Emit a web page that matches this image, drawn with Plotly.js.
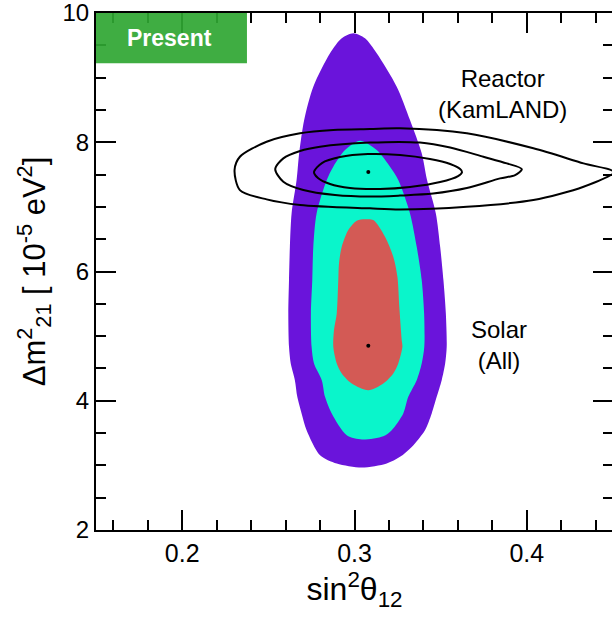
<!DOCTYPE html>
<html><head><meta charset="utf-8">
<script src="https://cdn.plot.ly/plotly-3.0.1.min.js"></script>
<style>html,body{margin:0;padding:0;overflow:hidden;background:#fff}</style>
</head><body><div id="chart" style="width:614px;height:617px"></div>
<script>
// Solar (All) allowed regions: boundary points
const solar3sX = [0.2993, 0.3061, 0.3129, 0.3245, 0.3322, 0.3390, 0.3421, 0.3472, 0.3497, 0.3516, 0.3530, 0.3535, 0.3526, 0.3506, 0.3477, 0.3448, 0.3409, 0.3332, 0.3264, 0.3187, 0.3042, 0.2897, 0.2800, 0.2722, 0.2693, 0.2668, 0.2654, 0.2630, 0.2620, 0.2616, 0.2620, 0.2625, 0.2635, 0.2664, 0.2679, 0.2708, 0.2761, 0.2858, 0.2926, 0.2993];
const solar3sY = [9.686, 9.608, 9.376, 8.859, 8.344, 7.828, 7.415, 6.899, 6.382, 5.867, 5.351, 4.834, 4.577, 4.319, 4.060, 3.803, 3.545, 3.286, 3.132, 3.029, 2.967, 3.029, 3.158, 3.545, 3.803, 4.060, 4.319, 4.577, 4.834, 5.351, 5.867, 6.382, 6.899, 7.415, 7.828, 8.344, 8.859, 9.376, 9.608, 9.686];
const solar2sX = [0.3032, 0.3129, 0.3206, 0.3254, 0.3322, 0.3361, 0.3390, 0.3404, 0.3405, 0.3390, 0.3361, 0.3312, 0.3283, 0.3216, 0.3167, 0.3044, 0.2955, 0.2868, 0.2829, 0.2810, 0.2765, 0.2751, 0.2747, 0.2755, 0.2761, 0.2780, 0.2839, 0.2877, 0.2945, 0.3032];
const solar2sY = [8.023, 7.879, 7.621, 7.415, 6.899, 6.382, 5.867, 5.351, 4.834, 4.577, 4.319, 4.060, 3.803, 3.545, 3.452, 3.401, 3.467, 3.803, 4.060, 4.319, 4.577, 4.834, 5.351, 5.867, 6.382, 6.899, 7.415, 7.621, 7.879, 8.023];
const solar1sX = [0.3061, 0.3109, 0.3177, 0.3225, 0.3249, 0.3260, 0.3274, 0.3278, 0.3254, 0.3225, 0.3167, 0.3080, 0.2984, 0.2926, 0.2897, 0.2877, 0.2881, 0.2897, 0.2906, 0.2910, 0.2926, 0.2964, 0.3013, 0.3061];
const solar1sY = [6.807, 6.796, 6.537, 6.228, 5.918, 5.454, 4.938, 4.834, 4.577, 4.423, 4.268, 4.164, 4.268, 4.423, 4.577, 4.834, 5.093, 5.351, 5.867, 6.125, 6.382, 6.641, 6.785, 6.807];
// Reactor (KamLAND) contour lines
const react1sX = [0.2765, 0.2811, 0.2916, 0.3078, 0.3264, 0.3438, 0.3555, 0.3613, 0.3624, 0.3601, 0.3497, 0.3322, 0.3148, 0.2974, 0.2858, 0.2788, 0.2765];
const react1sY = [7.539, 7.678, 7.771, 7.817, 7.802, 7.740, 7.663, 7.585, 7.539, 7.477, 7.384, 7.307, 7.276, 7.291, 7.353, 7.446, 7.539];
const react2sX = [0.2540, 0.2587, 0.2684, 0.2800, 0.3090, 0.3380, 0.3555, 0.3748, 0.3884, 0.3971, 0.3932, 0.3845, 0.3652, 0.3456, 0.3264, 0.3090, 0.2887, 0.2703, 0.2587, 0.2540];
const react2sY = [7.585, 7.751, 7.864, 7.930, 7.995, 7.995, 7.918, 7.776, 7.673, 7.585, 7.492, 7.441, 7.291, 7.206, 7.175, 7.159, 7.183, 7.260, 7.389, 7.585];
const react3sX = [0.2304, 0.2335, 0.2490, 0.2684, 0.2877, 0.3090, 0.3264, 0.3652, 0.4038, 0.4329, 0.4505, 0.4329, 0.4038, 0.3652, 0.3264, 0.3090, 0.2684, 0.2490, 0.2335, 0.2304];
const react3sY = [7.570, 7.776, 8.008, 8.138, 8.189, 8.204, 8.215, 8.138, 7.906, 7.673, 7.539, 7.311, 7.105, 7.002, 6.961, 6.977, 7.030, 7.116, 7.260, 7.570];
// best-fit points
const bestX = [0.308, 0.308];
const bestY = [4.85, 7.54];
const xTickVals = [0.2, 0.3, 0.4];
const xTickText = ['0.2', '0.3', '0.4'];
const yTickVals = [2, 4, 6, 8, 10];
const yTickText = ['2', '4', '6', '8', '10'];

const FONT = 'Liberation Sans, Arial, sans-serif';
function region(x, y, color) {
  return {x: x, y: y, type: 'scatter', mode: 'lines', fill: 'toself', fillcolor: color,
          line: {width: 0, color: color, shape: 'spline', smoothing: 0.8}, hoverinfo: 'skip'};
}
function contour(x, y) {
  return {x: x, y: y, type: 'scatter', mode: 'lines',
          line: {width: 2, color: 'black', shape: 'spline', smoothing: 0.8}, hoverinfo: 'skip'};
}
const traces = [
  region(solar3sX, solar3sY, '#6a14db'),
  region(solar2sX, solar2sY, '#0af5cb'),
  region(solar1sX, solar1sY, '#d35a55'),
  contour(react1sX, react1sY),
  contour(react2sX, react2sY),
  contour(react3sX, react3sY),
  {x: bestX, y: bestY, type: 'scatter', mode: 'markers', marker: {size: 4, color: 'black'}, hoverinfo: 'skip'}
];
const axisCommon = {
  showgrid: false, zeroline: false, showline: true, linecolor: 'black', linewidth: 2,
  mirror: 'allticks', ticks: 'inside', ticklen: 20, tickwidth: 2, tickcolor: 'black',
  ticklabeloverflow: 'allow'
};
const layout = {
  width: 614, height: 617,
  margin: {l: 96, r: 1, t: 13, b: 87},
  paper_bgcolor: 'white', plot_bgcolor: 'white',
  showlegend: false, hovermode: false,
  xaxis: Object.assign({}, axisCommon, {
    range: [0.15, 0.45], tickmode: 'array', tickvals: xTickVals, ticktext: xTickText,
    tickfont: {family: FONT, size: 25, color: 'black'},
    minor: {dtick: 0.02, tick0: 0, ticks: 'inside', ticklen: 10, tickwidth: 2, tickcolor: 'black'},
    ticklabelstandoff: 0,
    title: {text: 'sin<sup>2</sup>θ<sub>12</sub>', font: {family: FONT, size: 32, color: 'black'}, standoff: 8}
  }),
  yaxis: Object.assign({}, axisCommon, {
    range: [2, 10], tickmode: 'array', tickvals: yTickVals, ticktext: yTickText,
    tickfont: {family: FONT, size: 24, color: 'black'},
    minor: {dtick: 0.5, tick0: 0, ticks: 'inside', ticklen: 10, tickwidth: 2, tickcolor: 'black'},
    ticklabelstandoff: 0,
    title: {text: 'Δm<sup>2</sup><sub>21</sub> [ 10<sup>-5</sup> eV<sup>2</sup>]', font: {family: FONT, size: 31, color: 'black'}, standoff: 8}
  }),
  shapes: [
    {type: 'rect', xref: 'paper', yref: 'paper', x0: 0, x1: 0.292, y0: 0.903, y1: 1,
     fillcolor: '#2fa632', opacity: 0.92, line: {width: 0}, layer: 'above'}
  ],
  annotations: [
    {xref: 'paper', yref: 'paper', x: 0.143, y: 0.952, text: '<b>Present</b>', showarrow: false,
     font: {family: FONT, size: 23, color: 'white'}, xanchor: 'center', yanchor: 'middle'},
    {xref: 'paper', yref: 'paper', x: 0.787, y: 0.843, text: 'Reactor<br>(KamLAND)', showarrow: false,
     font: {family: FONT, size: 24, color: 'black'}, xanchor: 'center', yanchor: 'middle'},
    {xref: 'paper', yref: 'paper', x: 0.780, y: 0.357, text: 'Solar<br>(All)', showarrow: false,
     font: {family: FONT, size: 24, color: 'black'}, xanchor: 'center', yanchor: 'middle'}
  ]
};
Plotly.newPlot('chart', traces, layout, {staticPlot: true, displayModeBar: false});
</script>
</body></html>
